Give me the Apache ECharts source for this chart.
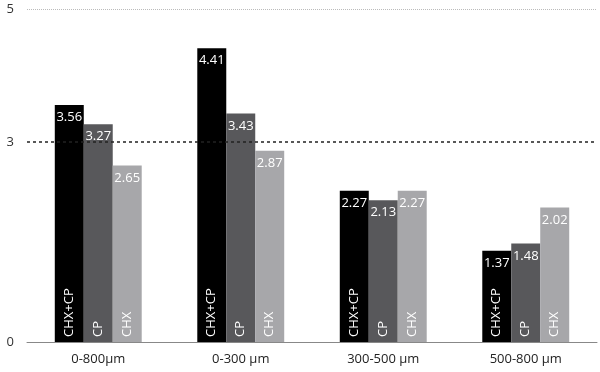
<!DOCTYPE html>
<html><head><meta charset="utf-8">
<script src="https://cdn.jsdelivr.net/npm/echarts@6/dist/echarts.min.js"></script>
<style>html,body{margin:0;padding:0;background:#fff}#c{width:600px;height:372px}</style>
</head><body><div id="c"></div>
<script>
const categories = ['0-800µm', '0-300 µm', '300-500 µm', '500-800 µm'];
const seriesNames = ['CHX+CP', 'CP', 'CHX'];
const chxcp = [3.56, 4.41, 2.27, 1.37];
const cp = [3.27, 3.43, 2.13, 1.48];
const chx = [2.65, 2.87, 2.27, 2.02];
const yTickLabels = [0, 3, 5];
const refLines = [3, 5];

const colors = ['#000000', '#58585b', '#a7a7aa'];
const values = [chxcp, cp, chx];
const font = '"Open Sans", sans-serif';

const series = [];
values.forEach((d, i) => {
  series.push({
    type: 'bar', name: seriesNames[i], data: d, xAxisIndex: 0, z: 2,
    barGap: '0%', barCategoryGap: '39%',
    itemStyle: { color: colors[i] },
    label: { show: true, position: 'insideBottom', rotate: 90, align: 'left', verticalAlign: 'middle',
      distance: 5, color: '#fff', fontFamily: font, fontSize: 13, formatter: seriesNames[i] }
  });
});
values.forEach((d, i) => {
  series.push({
    type: 'bar', data: d, xAxisIndex: 1, z: 3, silent: true,
    barGap: '0%', barCategoryGap: '39%',
    itemStyle: { color: 'transparent' },
    label: { show: true, position: 'insideTop', distance: 6, color: '#fff', fontFamily: font, fontSize: 13,
      formatter: p => p.value.toFixed(2) }
  });
});
series.push({
  type: 'line', data: [], z: 1, silent: true,
  markLine: { symbol: 'none', silent: true, label: { show: false },
    data: [
      { yAxis: refLines[0], lineStyle: { color: '#222', type: [3, 3], width: 1.5 } },
      { yAxis: refLines[1], lineStyle: { color: '#bbb', type: [1, 1], width: 1 } }
    ] }
});

const chart = echarts.init(document.getElementById('c'));
chart.setOption({
  animation: false,
  grid: { left: 27, right: 3, top: 9, bottom: 30 },
  xAxis: [
    { type: 'category', data: categories,
      axisLine: { lineStyle: { color: '#888', width: 1 } }, axisTick: { show: false },
      axisLabel: { color: '#222', fontFamily: font, fontSize: 13, margin: 11 } },
    { type: 'category', data: categories, show: false }
  ],
  yAxis: { type: 'value', min: 0, max: 5, interval: 1,
    axisLine: { show: false }, axisTick: { show: false }, splitLine: { show: false },
    axisLabel: { color: '#333', fontFamily: font, fontSize: 13, margin: 13,
      formatter: v => yTickLabels.includes(v) ? String(v) : '' } },
  series
});
</script></body></html>
